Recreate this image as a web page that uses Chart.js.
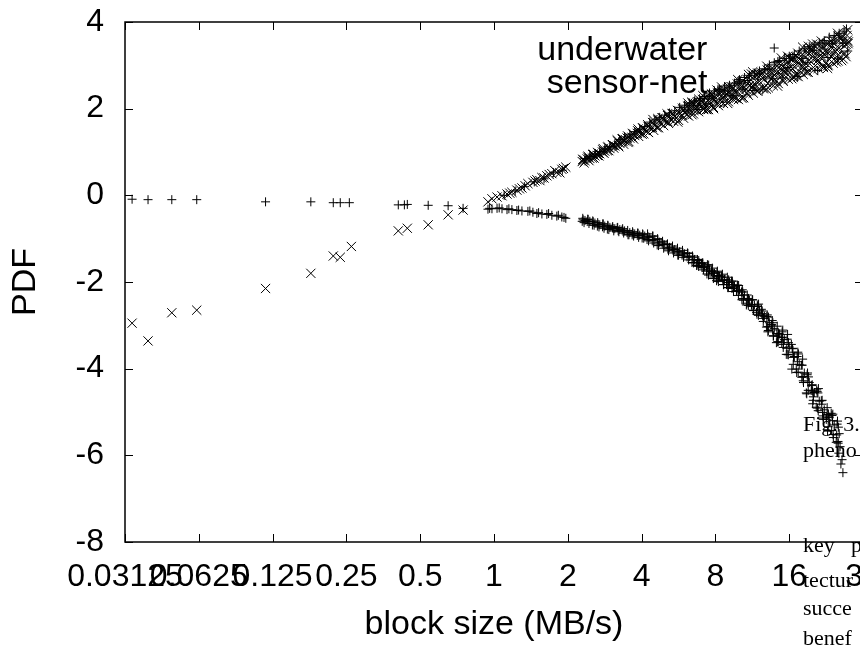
<!DOCTYPE html>
<html>
<head>
<meta charset="utf-8">
<script src="https://cdn.jsdelivr.net/npm/chart.js@4/dist/chart.umd.min.js"></script>
<style>
  html, body { margin: 0; padding: 0; background: #fff; overflow: hidden; }
  #wrap { position: absolute; left: 0; top: 0; width: 900px; height: 648px; }
</style>
</head>
<body>
<div id="wrap"><canvas id="pdf" width="900" height="648"></canvas></div>
<script>
  // axis ticks (block size doubles at every tick)
  const xTickValues = [0.03125, 0.0625, 0.125, 0.25, 0.5, 1, 2, 4, 8, 16, 32];
  const yTickValues = [-8, -6, -4, -2, 0, 2, 4];

  // "+" series: flat part on the left
  const plusFlat = [
    [0.0334, -0.09], [0.0388, -0.1], [0.0485, -0.1], [0.0613, -0.1], [0.117, -0.15],
    [0.179, -0.15], [0.221, -0.17], [0.236, -0.17], [0.257, -0.17], [0.407, -0.22],
    [0.431, -0.22], [0.443, -0.21], [0.539, -0.23], [0.650, -0.24], [0.748, -0.3],
  ];

  // "+" series: lower (falling) branch
  const plusLower = [
    [0.945, -0.32], [0.96, -0.30], [0.981, -0.31], [1.029, -0.30], [1.05, -0.29], [1.078, -0.31],
    [1.130, -0.33], [1.15, -0.31], [1.183, -0.33], [1.240, -0.35], [1.26, -0.34], [1.300, -0.36],
    [1.375, -0.37], [1.40, -0.36], [1.441, -0.39], [1.496, -0.42], [1.52, -0.40], [1.568, -0.43],
    [1.643, -0.44], [1.67, -0.42], [1.722, -0.46], [1.804, -0.48], [1.83, -0.46], [1.891, -0.50],
    [1.963, -0.53], [1.93, -0.51],
    [2.302, -0.53], [2.33, -0.63], [2.35, -0.58], [2.412, -0.55], [2.44, -0.65], [2.46, -0.60],
    [2.528, -0.59], [2.56, -0.69], [2.58, -0.64], [2.648, -0.63], [2.68, -0.73], [2.70, -0.68],
    [2.776, -0.66], [2.81, -0.76], [2.83, -0.71], [2.910, -0.69], [2.94, -0.79], [2.97, -0.74],
    [3.049, -0.72], [3.08, -0.82], [3.11, -0.77], [3.195, -0.74], [3.23, -0.84], [3.26, -0.79],
    [3.348, -0.77], [3.38, -0.87], [3.41, -0.82], [3.509, -0.81], [3.55, -0.91], [3.58, -0.86],
    [3.676, -0.84], [3.71, -0.94], [3.75, -0.89], [3.853, -0.87], [3.89, -0.97], [3.93, -0.92],
    [4.039, -0.89], [4.08, -0.99], [4.12, -0.94], [4.231, -0.89], [4.27, -1.05], [4.32, -0.97],
    [4.435, -0.94], [4.48, -1.10], [4.53, -1.02], [4.647, -1.00], [4.69, -1.16], [4.74, -1.08],
    [4.870, -1.06], [4.92, -1.22], [4.97, -1.14], [5.102, -1.12], [5.15, -1.28], [5.20, -1.20],
    [5.348, -1.17], [5.40, -1.33], [5.46, -1.25], [5.603, -1.22], [5.66, -1.38], [5.72, -1.30],
    [5.873, -1.27], [5.93, -1.43], [5.99, -1.35], [6.155, -1.33], [6.22, -1.49], [6.28, -1.41],
    [6.449, -1.40], [6.51, -1.56], [6.58, -1.48], [6.760, -1.48], [6.83, -1.64], [6.90, -1.56],
    [7.081, -1.56], [7.15, -1.72], [7.22, -1.64], [7.423, -1.60], [7.50, -1.84], [7.57, -1.72],
    [7.775, -1.68], [7.85, -1.92], [7.93, -1.80], [8.151, -1.75], [8.23, -1.99], [8.31, -1.87],
    [8.545, -1.82], [8.63, -2.06], [8.72, -1.94], [8.951, -1.89], [9.04, -2.13], [9.13, -2.01],
    [9.383, -1.98], [9.48, -2.22], [9.57, -2.10], [9.829, -2.07], [9.93, -2.31], [10.03, -2.19],
    [10.30, -2.18], [10.40, -2.42], [10.51, -2.30], [10.79, -2.30], [10.90, -2.54], [11.01, -2.42],
    [11.31, -2.41], [11.42, -2.65], [11.54, -2.53], [11.86, -2.53], [11.98, -2.77], [12.10, -2.65],
    [12.42, -2.67], [12.54, -2.91], [12.67, -2.79], [13.02, -2.76], [13.15, -3.12], [13.28, -2.94],
    [13.64, -2.89], [13.78, -3.25], [13.91, -3.07], [14.30, -3.02], [14.44, -3.38], [14.59, -3.20],
    [14.98, -3.15], [15.13, -3.51], [15.28, -3.33], [15.70, -3.32], [15.86, -3.68], [16.01, -3.50],
    [16.46, -3.54], [16.62, -3.90], [16.79, -3.72], [17.24, -3.72], [17.41, -4.08], [17.58, -3.90],
    [18.08, -3.92], [18.26, -4.28], [18.44, -4.10], [18.94, -4.14], [19.13, -4.50], [19.32, -4.32],
    [19.85, -4.37], [20.05, -4.73], [20.25, -4.55], [20.80, -4.53], [21.01, -4.97], [21.22, -4.75],
    [21.80, -4.73], [22.02, -5.17], [22.24, -4.95], [22.85, -4.90], [23.08, -5.34], [23.31, -5.12],
    [23.93, -5.08], [24.17, -5.52], [24.41, -5.30], [25.09, -5.28], [25.34, -5.72], [25.59, -5.50],
    [25.8, -5.8], [25.5, -5.95], [26.28, -6.1], [26.0, -6.2], [26.5, -6.4],
  ];

  // "+" series: more scatter of the lower branch (band thickens to the right)
  const plusLowerScatter = [
    [2.31, -0.565], [2.29, -0.60], [2.42, -0.555], [2.40, -0.605], [2.54, -0.61], [2.52, -0.685],
    [2.66, -0.67], [2.64, -0.71], [2.79, -0.66], [2.77, -0.725], [2.92, -0.705], [2.90, -0.78],
    [3.06, -0.765], [3.04, -0.745], [3.21, -0.815], [3.18, -0.75], [3.36, -0.83], [3.33, -0.80],
    [3.52, -0.91], [3.49, -0.86], [3.69, -0.875], [3.66, -0.91], [3.87, -0.875], [3.84, -0.925],
    [4.05, -0.91], [4.02, -0.985], [4.25, -0.955], [4.21, -1.02], [4.45, -0.94], [4.42, -1.045],
    [4.66, -1.025], [4.63, -1.145], [4.89, -1.13], [4.85, -1.10], [5.12, -1.24], [5.08, -1.135],
    [5.37, -1.265], [5.33, -1.22], [5.62, -1.38], [5.58, -1.30], [5.89, -1.325], [5.85, -1.38],
    [6.18, -1.34], [6.13, -1.42], [6.47, -1.43], [6.42, -1.55], [6.78, -1.545], [6.73, -1.61],
    [7.11, -1.56], [7.05, -1.665], [7.45, -1.635], [7.39, -1.815], [7.80, -1.79], [7.74, -1.74],
    [8.18, -1.93], [8.12, -1.775], [8.58, -1.965], [8.51, -1.89], [8.98, -2.13], [8.92, -2.01],
    [9.42, -2.065], [9.35, -2.15], [9.87, -2.08], [9.79, -2.20], [10.34, -2.23], [10.26, -2.41],
    [10.83, -2.395], [10.75, -2.49], [11.35, -2.41], [11.27, -2.565], [11.90, -2.565], [11.82, -2.745],
    [12.47, -2.78], [12.37, -2.73], [13.07, -3.03], [12.97, -2.795], [13.69, -3.105], [13.59, -2.995],
    [14.35, -3.38], [14.25, -3.20], [15.04, -3.275], [14.92, -3.40], [15.76, -3.21], [15.64, -3.53],
    [16.52, -3.53], [16.40, -4.01], [17.31, -3.84], [17.17, -4.09], [18.15, -3.78], [18.01, -4.20],
    [19.01, -4.10], [18.87, -4.58], [19.93, -4.52], [19.77, -4.39], [20.88, -4.91], [20.72, -4.49],
    [21.88, -5.01], [21.72, -4.82], [22.94, -5.44], [22.76, -5.12], [24.02, -5.20], [23.84, -5.43],
    [25.19, -5.21], [24.99, -5.53],
    [13.1, -3.15], [13.72, -2.94], [14.38, -3.25], [15.06, -3.11], [15.8, -3.67], [16.56, -3.62],
    [17.35, -3.62], [18.2, -4.18], [19.05, -4.31], [19.95, -4.81], [20.95, -4.56], [21.95, -5.09],
    [23.0, -5.05], [24.1, -5.05], [25.3, -5.68],
  ];

  // "+" series: densest part of the lower branch (right of 6 MB/s)
  const plusLowerDense = [
    [6.84, -1.505], [7.17, -1.675], [7.51, -1.61], [7.87, -1.885], [8.25, -1.85], [8.65, -2.06],
    [9.06, -1.95], [9.50, -2.12], [9.95, -2.08], [10.42, -2.38], [10.92, -2.38], [11.45, -2.66],
    [12.00, -2.51], [12.57, -2.84], [13.18, -2.81], [13.80, -3.24], [14.47, -3.19], [15.16, -3.44],
    [15.89, -3.40], [16.66, -3.74], [17.45, -3.66], [18.30, -4.32], [19.17, -4.19], [20.09, -4.65],
    [21.05, -4.46], [22.06, -5.14], [23.12, -5.06], [24.22, -5.59], [25.39, -5.35],
    [6.71, -1.62], [7.02, -1.57], [7.36, -1.75], [7.71, -1.76], [8.09, -1.97], [8.48, -1.86],
    [8.88, -2.06], [9.31, -1.98], [9.75, -2.21], [10.22, -2.23], [10.70, -2.53], [11.22, -2.52],
    [11.77, -2.70], [12.32, -2.63], [12.92, -3.04], [13.53, -2.98], [14.19, -3.40], [14.86, -3.28],
    [15.57, -3.67], [16.33, -3.44], [17.10, -4.01], [17.94, -3.92], [18.79, -4.56], [19.69, -4.50],
    [20.63, -4.89], [21.63, -4.74], [22.67, -5.17], [23.74, -5.03], [24.89, -5.70],
  ];

  // "+" series: points mixed into the upper (rising) branch, plus one outlier
  const plusUpper = [
    [1.10, 0.0], [1.22, 0.1], [1.33, 0.2], [1.46, 0.31], [1.60, 0.38], [1.75, 0.52], [1.90, 0.58],
    [2.35, 0.85], [2.46, 0.9], [2.58, 0.95], [2.70, 1.01], [2.83, 1.07], [2.97, 1.13], [3.11, 1.19],
    [3.26, 1.29], [3.41, 1.35], [3.58, 1.41], [3.75, 1.47], [3.93, 1.53], [4.12, 1.59], [4.32, 1.69],
    [4.53, 1.74], [4.74, 1.80], [4.97, 1.85], [5.20, 1.90], [5.46, 1.95], [5.72, 2.03], [5.99, 2.08],
    [6.28, 2.13], [6.58, 2.18], [6.90, 2.23], [7.22, 2.28], [7.57, 2.36], [7.93, 2.41], [8.31, 2.45],
    [8.72, 2.50], [9.13, 2.54], [9.57, 2.59], [10.03, 2.67], [10.51, 2.72], [11.01, 2.77], [11.54, 2.82],
    [12.10, 2.87], [12.67, 2.92], [13.28, 3.01], [13.91, 3.06], [14.59, 3.11], [15.28, 3.16], [16.01, 3.21],
    [16.79, 3.25], [17.58, 3.33], [18.44, 3.38], [19.32, 3.43], [20.25, 3.47], [21.22, 3.52], [22.24, 3.57],
    [23.31, 3.65], [24.41, 3.69], [25.59, 3.74], [26.80, 3.79], [27.4, 3.84],
    [6.19, 1.97], [6.49, 2.08], [6.80, 1.98], [7.12, 2.23], [7.47, 2.11], [7.82, 2.23], [8.20, 2.45],
    [8.60, 2.15], [9.00, 2.41], [9.44, 2.30], [9.89, 2.63], [10.36, 2.45], [10.85, 2.65], [11.38, 2.42],
    [11.93, 2.68], [12.49, 2.45], [13.10, 2.90], [13.72, 2.69], [14.39, 3.09], [15.07, 2.71], [15.79, 2.95],
    [16.56, 3.17], [17.34, 2.74], [18.19, 3.16], [19.05, 3.07], [19.97, 3.34], [20.92, 2.88], [21.93, 3.51],
    [22.99, 3.18], [24.07, 3.50], [25.24, 3.15], [26.44, 3.51], [27.72, 3.33],
    [13.9, 3.40],
  ];

  // "x" series: left part
  const crossLeft = [
    [0.0334, -2.95], [0.0388, -3.36], [0.0485, -2.71], [0.0613, -2.65], [0.117, -2.15],
    [0.179, -1.80], [0.221, -1.40], [0.236, -1.43], [0.262, -1.18], [0.407, -0.82],
    [0.443, -0.76], [0.539, -0.68], [0.650, -0.45], [0.748, -0.34],
  ];

  // "x" series: upper (rising) branch
  const crossUpper = [
    [0.945, -0.15], [0.981, -0.08], [1.029, -0.04], [1.078, -0.01], [1.130, 0.03], [1.160, 0.05],
    [1.183, 0.07], [1.240, 0.12], [1.270, 0.15], [1.300, 0.17], [1.340, 0.22], [1.375, 0.27],
    [1.441, 0.3], [1.470, 0.33], [1.496, 0.36], [1.539, 0.34], [1.568, 0.41], [1.600, 0.4],
    [1.643, 0.45], [1.680, 0.48], [1.722, 0.5], [1.771, 0.57], [1.804, 0.53], [1.856, 0.52],
    [1.891, 0.6], [1.920, 0.62], [1.963, 0.65],
    [2.302, 0.83], [2.33, 0.75], [2.412, 0.88], [2.44, 0.80], [2.528, 0.94], [2.56, 0.86],
    [2.648, 0.99], [2.68, 0.91], [2.776, 1.05], [2.81, 0.97], [2.910, 1.11], [2.94, 1.03],
    [3.049, 1.17], [3.08, 1.09], [3.195, 1.25], [3.23, 1.12], [3.348, 1.31], [3.38, 1.18],
    [3.509, 1.37], [3.55, 1.24], [3.676, 1.43], [3.71, 1.30], [3.853, 1.49], [3.89, 1.36],
    [4.039, 1.55], [4.08, 1.42], [4.231, 1.63], [4.27, 1.45], [4.435, 1.68], [4.48, 1.50],
    [4.647, 1.74], [4.69, 1.56], [4.870, 1.79], [4.92, 1.61], [5.102, 1.84], [5.15, 1.66],
    [5.348, 1.89], [5.40, 1.71], [5.603, 1.96], [5.66, 1.73], [5.873, 2.01], [5.93, 1.78],
    [6.155, 2.06], [6.22, 1.83], [6.449, 2.11], [6.51, 1.88], [6.760, 2.16], [6.83, 1.93],
    [7.081, 2.21], [7.15, 1.98], [7.423, 2.27], [7.50, 1.98], [7.775, 2.32], [7.85, 2.03],
    [8.151, 2.36], [8.23, 2.07], [8.545, 2.41], [8.63, 2.12], [8.951, 2.45], [9.04, 2.16],
    [9.383, 2.50], [9.48, 2.21], [9.829, 2.57], [9.93, 2.21], [10.30, 2.62], [10.40, 2.26],
    [10.79, 2.67], [10.90, 2.31], [11.31, 2.72], [11.42, 2.36], [11.86, 2.77], [11.98, 2.41],
    [12.42, 2.82], [12.54, 2.46], [13.02, 2.89], [13.15, 2.48], [13.64, 2.94], [13.78, 2.53],
    [14.30, 2.99], [14.44, 2.58], [14.98, 3.04], [15.13, 2.63], [15.70, 3.09], [15.86, 2.68],
    [16.46, 3.13], [16.62, 2.72], [17.24, 3.20], [17.41, 2.74], [18.08, 3.25], [18.26, 2.79],
    [18.94, 3.30], [19.13, 2.84], [19.85, 3.34], [20.05, 2.88], [20.80, 3.39], [21.01, 2.93],
    [21.80, 3.44], [22.02, 2.98], [22.85, 3.50], [23.08, 3.01], [23.93, 3.54], [24.17, 3.05],
    [25.09, 3.59], [25.34, 3.10], [26.28, 3.64], [26.54, 3.15], [27.55, 3.69], [27.3, 3.2],
    [2.35, 0.8], [2.46, 0.85], [2.58, 0.91], [2.70, 0.96], [2.83, 1.02], [2.97, 1.08], [3.11, 1.14],
    [3.26, 1.2], [3.41, 1.26], [3.58, 1.32], [3.75, 1.38], [3.93, 1.44], [4.12, 1.5], [4.32, 1.56],
    [4.53, 1.61], [4.74, 1.67], [4.97, 1.72], [5.20, 1.77], [5.46, 1.82], [5.72, 1.87], [5.99, 1.92],
    [6.28, 1.97], [6.58, 2.02], [6.90, 2.07], [7.22, 2.12], [7.57, 2.16], [7.93, 2.21], [8.31, 2.25],
    [8.72, 2.3], [9.13, 2.34], [9.57, 2.39], [10.03, 2.43], [10.51, 2.48], [11.01, 2.53], [11.54, 2.58],
    [12.10, 2.63], [12.67, 2.68], [13.28, 2.73], [13.91, 2.78], [14.59, 2.83], [15.28, 2.88],
    [16.01, 2.93], [16.79, 2.97], [17.58, 3.02], [18.44, 3.07], [19.32, 3.12], [20.25, 3.16],
    [21.22, 3.21], [22.24, 3.26], [23.31, 3.31], [24.41, 3.35], [25.59, 3.4], [26.80, 3.45], [27.8, 3.5],
  ];

  // "x" series: more scatter of the upper branch (cloud widens to the right)
  const crossUpperScatter = [
    [2.31, 0.82], [2.29, 0.78], [2.42, 0.90], [2.40, 0.84], [2.54, 0.95], [2.52, 0.86],
    [2.66, 0.97], [2.64, 0.92], [2.79, 1.08], [2.77, 1.00], [2.92, 1.12], [2.90, 1.03],
    [3.06, 1.15], [3.04, 1.17], [3.21, 1.15], [3.18, 1.28], [3.36, 1.24], [3.33, 1.30],
    [3.52, 1.22], [3.49, 1.32], [3.69, 1.41], [3.66, 1.34], [3.87, 1.53], [3.84, 1.43],
    [4.05, 1.56], [4.02, 1.41], [4.25, 1.59], [4.21, 1.48], [4.45, 1.75], [4.42, 1.57],
    [4.66, 1.77], [4.63, 1.56], [4.89, 1.73], [4.85, 1.79], [5.12, 1.70], [5.08, 1.88],
    [5.37, 1.79], [5.33, 1.88], [5.62, 1.69], [5.58, 1.87], [5.89, 1.97], [5.85, 1.85],
    [6.18, 2.13], [6.13, 1.95], [6.47, 2.13], [6.42, 1.86], [6.78, 2.11], [6.73, 1.96],
    [7.11, 2.30], [7.05, 2.07], [7.45, 2.31], [7.39, 1.98], [7.80, 2.23], [7.74, 2.32],
    [8.18, 2.14], [8.12, 2.43], [8.58, 2.26], [8.51, 2.39], [8.98, 2.12], [8.92, 2.34],
    [9.42, 2.46], [9.35, 2.30], [9.87, 2.67], [9.79, 2.40], [10.34, 2.64], [10.26, 2.24],
    [10.83, 2.58], [10.75, 2.37], [11.35, 2.85], [11.27, 2.50], [11.90, 2.82], [11.82, 2.41],
    [12.47, 2.71], [12.37, 2.82], [13.07, 2.58], [12.97, 2.98], [13.69, 2.72], [13.59, 2.90],
    [14.35, 2.52], [14.25, 2.83], [15.04, 2.97], [14.92, 2.76], [15.76, 3.21], [15.64, 2.90],
    [16.52, 3.16], [16.40, 2.69], [17.31, 3.09], [17.17, 2.81], [18.15, 3.42], [18.01, 2.97],
    [19.01, 3.37], [18.87, 2.84], [19.93, 3.20], [19.77, 3.34], [20.88, 3.04], [20.72, 3.49],
    [21.88, 3.19], [21.72, 3.40], [22.94, 2.93], [22.76, 3.31], [24.02, 3.46], [23.84, 3.20],
    [25.19, 3.74], [24.99, 3.36], [26.38, 3.68], [26.18, 3.11], [27.65, 3.58], [27.0, 3.27],
    [15.05, 2.66], [15.8, 3.07], [16.55, 2.92], [17.35, 3.28], [18.2, 2.88], [19.05, 3.24],
    [19.95, 3.49], [20.95, 3.12], [21.95, 3.28], [23.0, 2.99], [24.1, 3.60], [25.25, 3.23],
    [26.45, 3.55], [27.7, 3.82],
  ];

  // "x" series: densest part of the upper cloud (right of 6 MB/s)
  const crossUpperDense = [
    [6.23, 2.07], [6.53, 1.96], [6.84, 2.22], [7.17, 2.00], [7.51, 2.19], [7.87, 2.00], [8.25, 2.35],
    [8.65, 2.27], [9.06, 2.51], [9.50, 2.27], [9.95, 2.50], [10.42, 2.25], [10.92, 2.79], [11.45, 2.51],
    [12.00, 2.81], [12.57, 2.48], [13.18, 2.75], [13.80, 2.64], [14.47, 2.94], [15.16, 2.86], [15.89, 3.18],
    [16.66, 2.75], [17.45, 3.16], [18.30, 2.97], [19.17, 3.44], [20.09, 2.95], [21.05, 3.28], [22.06, 2.95],
    [23.12, 3.50], [24.22, 3.27], [25.39, 3.67], [26.60, 3.26], [27.88, 3.54],
    [6.11, 1.86], [6.40, 2.15], [6.71, 2.03], [7.02, 2.17], [7.36, 1.98], [7.71, 2.34], [8.09, 2.16],
    [8.48, 2.50], [8.88, 2.32], [9.31, 2.50], [9.75, 2.24], [10.22, 2.51], [10.70, 2.45], [11.22, 2.80],
    [11.77, 2.50], [12.32, 2.79], [12.92, 2.45], [13.53, 2.84], [14.19, 2.64], [14.86, 3.17], [15.57, 2.82],
    [16.33, 3.14], [17.10, 2.76], [17.94, 3.12], [18.79, 2.96], [19.69, 3.39], [20.63, 3.16], [21.63, 3.56],
    [22.67, 3.06], [23.74, 3.48], [24.89, 3.08], [26.07, 3.62], [27.33, 3.48],
  ];

  // in-plot label, anchored in data coordinates (right aligned)
  const labelLines = ["underwater", "sensor-net"];
  const labelAt = { x: 7.42, y: 3.12 };

  // fragments of the surrounding page text that spill over the figure
  const pageText = [
    { text: "Fig. 3.", x: 803, y: 431 },
    { text: "pheno", x: 803, y: 457 },
    { text: "key", x: 803, y: 552 },
    { text: "p", x: 851, y: 552 },
    { text: "tectur", x: 803, y: 587 },
    { text: "succe", x: 803, y: 615 },
    { text: "benef", x: 803, y: 645 },
  ];

  const SANS = "'Liberation Sans', Arial, Helvetica, sans-serif";
  const SERIF = "'Liberation Serif', 'Times New Roman', serif";

  const toXY = (pts) => pts.map((p) => ({ x: p[0], y: p[1] }));

  // gnuplot style frame: box with inward ticks on all four sides, then labels on top
  const frameTicks = {
    id: "frameTicks",
    beforeDatasetsDraw(chart) {
      const { ctx, chartArea: a, scales } = chart;
      const TL = 8;
      ctx.save();
      ctx.strokeStyle = "#000";
      ctx.lineWidth = 1.5;
      ctx.strokeRect(a.left, a.top, a.right - a.left, a.bottom - a.top);
      ctx.beginPath();
      xTickValues.forEach((v) => {
        const px = Math.round(scales.x.getPixelForValue(v)) + 0.5;
        ctx.moveTo(px, a.top);
        ctx.lineTo(px, a.top + TL);
        ctx.moveTo(px, a.bottom);
        ctx.lineTo(px, a.bottom - TL);
      });
      yTickValues.forEach((v) => {
        const py = Math.round(scales.y.getPixelForValue(v)) + 0.5;
        ctx.moveTo(a.left, py);
        ctx.lineTo(a.left + TL, py);
        ctx.moveTo(a.right, py);
        ctx.lineTo(a.right - TL, py);
      });
      ctx.lineWidth = 1;
      ctx.stroke();
      ctx.restore();
    },
    afterDraw(chart) {
      const { ctx, scales } = chart;
      ctx.save();
      ctx.fillStyle = "#000";
      ctx.textBaseline = "alphabetic";
      ctx.textAlign = "right";
      ctx.font = "34px " + SANS;
      const lx = scales.x.getPixelForValue(labelAt.x);
      const ly = scales.y.getPixelForValue(labelAt.y);
      labelLines.forEach((t, i) => ctx.fillText(t, lx, ly + i * 33));

      ctx.textAlign = "left";
      ctx.font = "22px " + SERIF;
      pageText.forEach((p) => ctx.fillText(p.text, p.x, p.y));
      ctx.restore();
    },
  };

  Chart.defaults.font.family = SANS;
  Chart.defaults.color = "#000";

  new Chart(document.getElementById("pdf"), {
    type: "scatter",
    data: {
      datasets: [
        {
          label: "+",
          data: toXY(plusFlat.concat(plusLower, plusLowerScatter, plusLowerDense, plusUpper)),
          pointStyle: "cross",
          pointRadius: 4.5,
          borderColor: "#000",
          backgroundColor: "#000",
          borderWidth: 1,
          showLine: false,
        },
        {
          label: "x",
          data: toXY(crossLeft.concat(crossUpper, crossUpperScatter, crossUpperDense)),
          pointStyle: "crossRot",
          pointRadius: 6.5,
          borderColor: "#000",
          backgroundColor: "#000",
          borderWidth: 1,
          showLine: false,
        },
      ],
    },
    options: {
      responsive: false,
      animation: false,
      events: [],
      layout: { padding: { left: 0, top: 22, right: 37, bottom: 0 } },
      plugins: { legend: { display: false }, tooltip: { enabled: false } },
      scales: {
        x: {
          type: "logarithmic",
          min: 0.03125,
          max: 32,
          afterBuildTicks(scale) {
            scale.ticks = xTickValues.map((v) => ({ value: v }));
          },
          afterFit(scale) {
            scale.height = 106;
            scale.paddingLeft = 0;
            scale.paddingRight = 0;
          },
          grid: { display: false, drawTicks: false },
          border: { display: false },
          ticks: {
            autoSkip: false,
            maxRotation: 0,
            minRotation: 0,
            padding: 16,
            color: "#000",
            font: { size: 32 },
            callback: (v) => String(v),
          },
          title: {
            display: true,
            text: "block size (MB/s)",
            color: "#000",
            font: { size: 34 },
            padding: { top: 0, bottom: 3 },
          },
        },
        y: {
          type: "linear",
          min: -8,
          max: 4,
          afterBuildTicks(scale) {
            scale.ticks = yTickValues.map((v) => ({ value: v }));
          },
          afterFit(scale) {
            scale.width = 125;
            scale.paddingTop = 0;
            scale.paddingBottom = 0;
          },
          grid: { display: false, drawTicks: false },
          border: { display: false },
          ticks: {
            padding: 21,
            color: "#000",
            font: { size: 32 },
            callback: (v) => String(v),
          },
          title: {
            display: true,
            text: "PDF",
            color: "#000",
            font: { size: 34 },
            padding: { top: 5, bottom: 0 },
          },
        },
      },
    },
    plugins: [frameTicks],
  });
</script>
</body>
</html>
